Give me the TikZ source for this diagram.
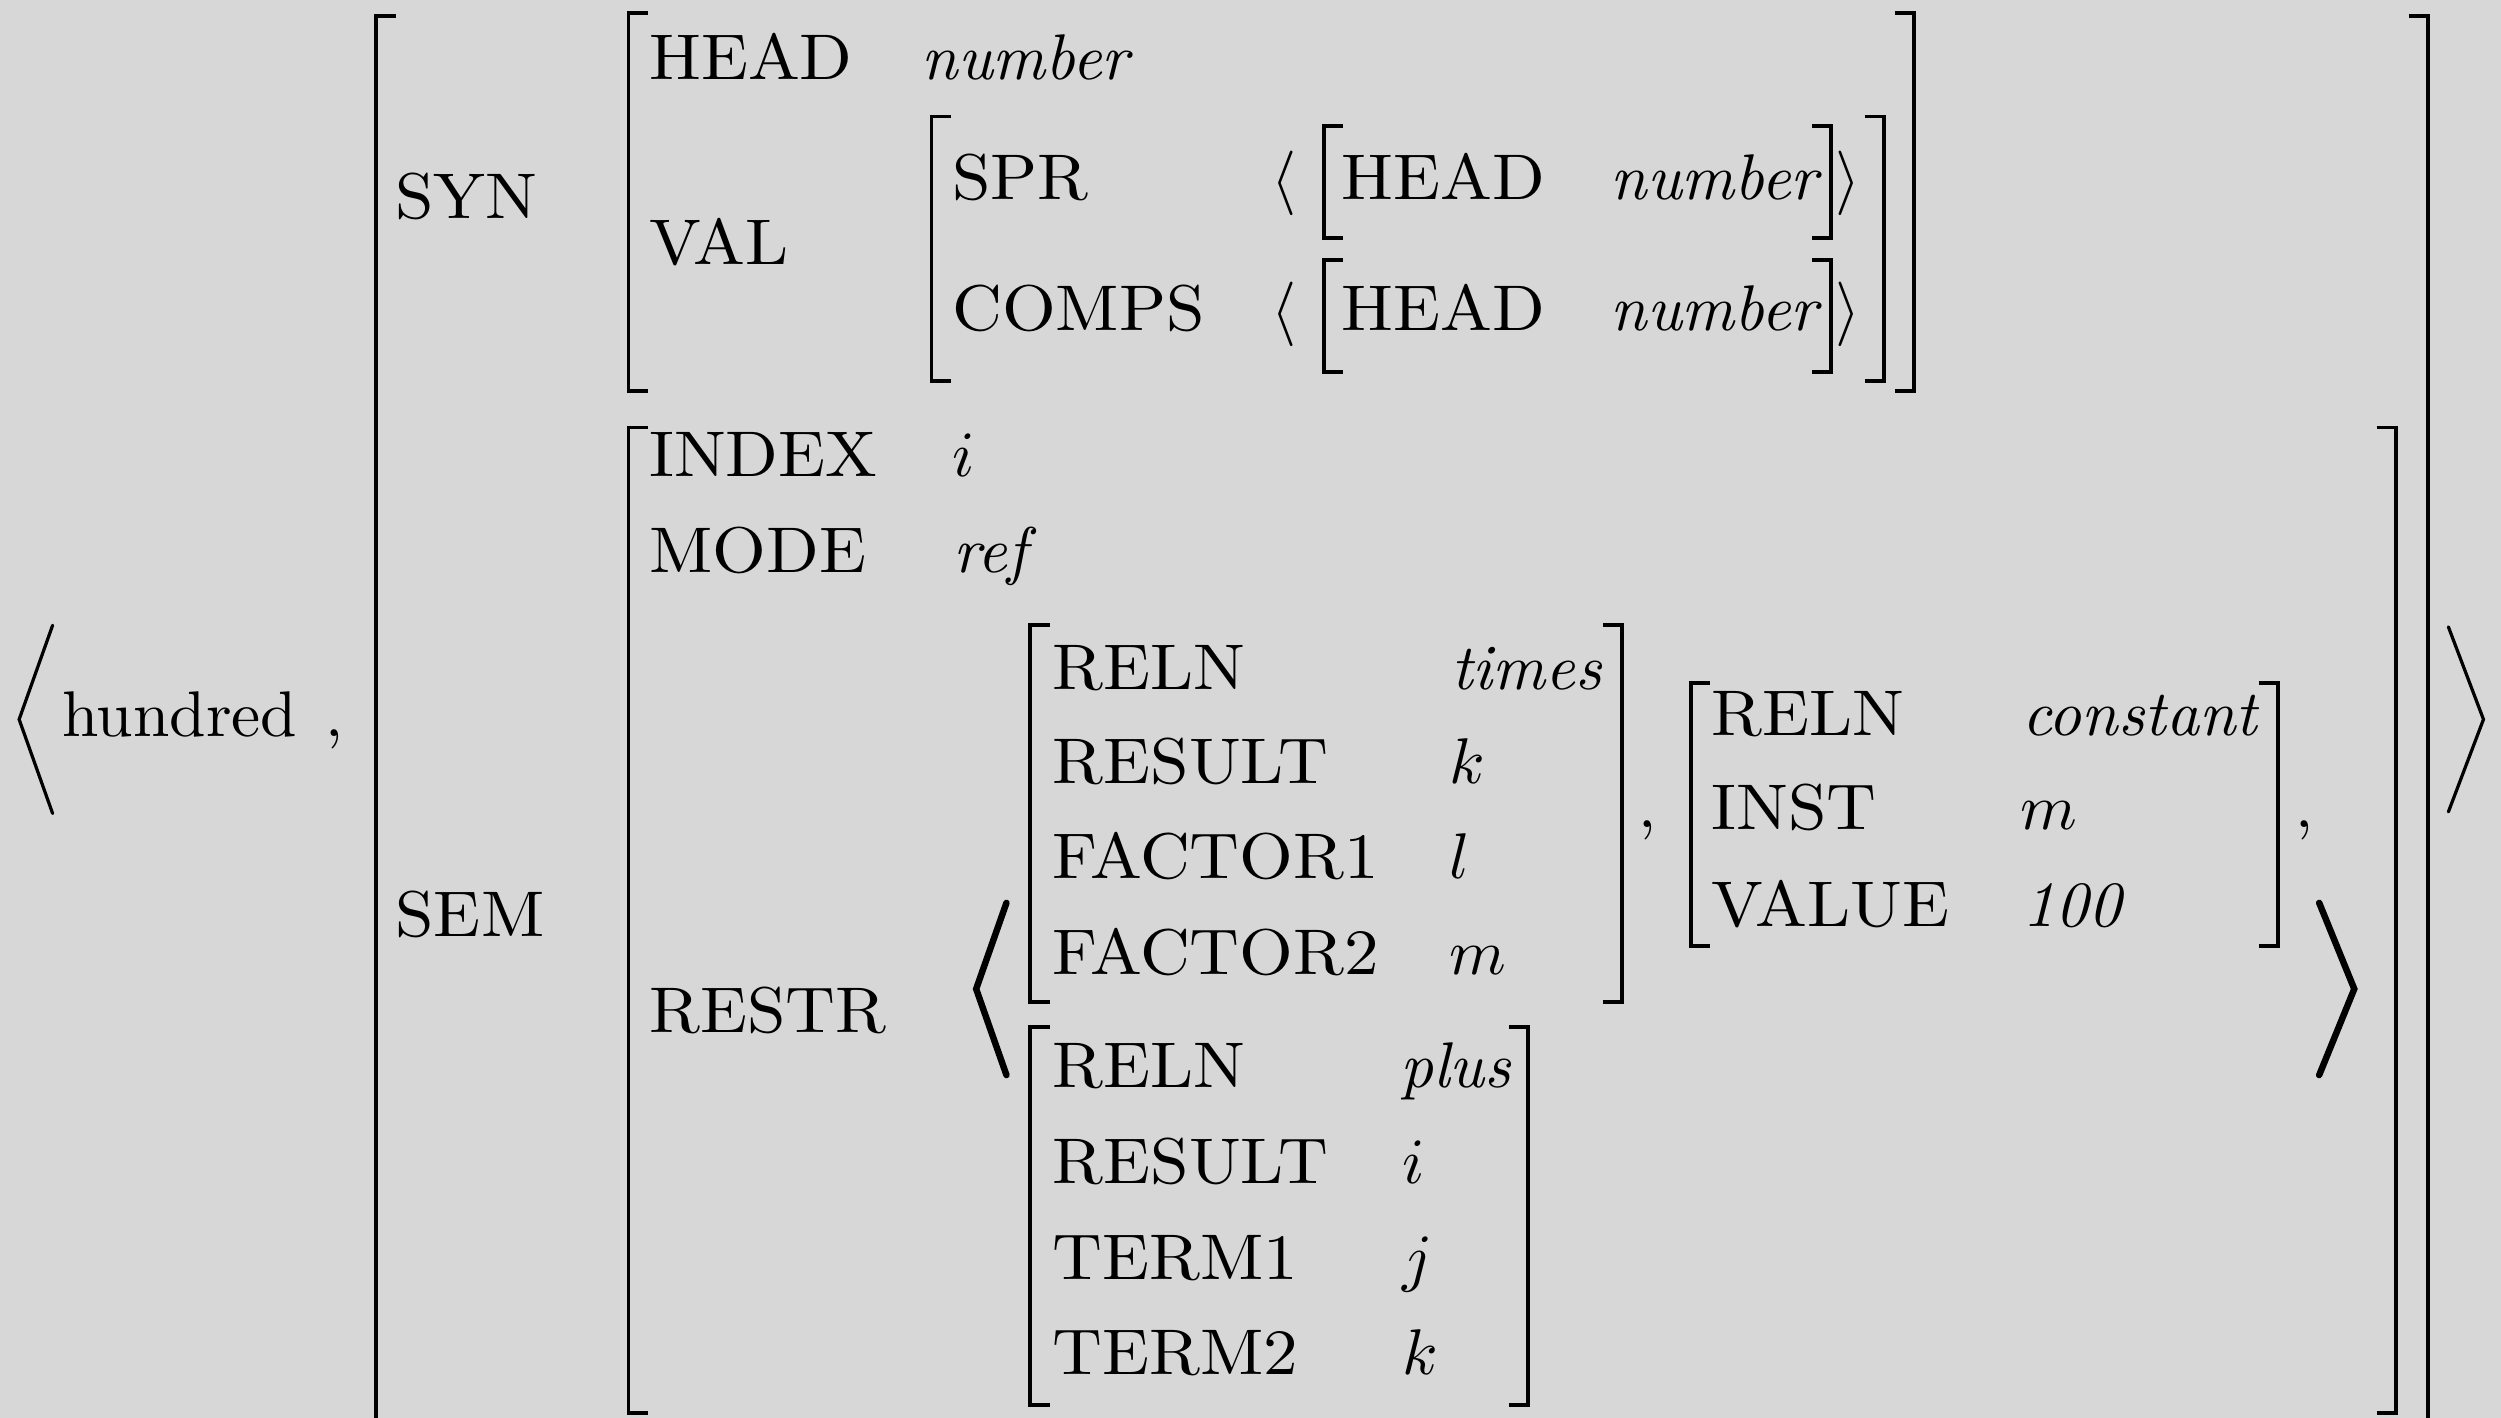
\documentclass[tikz,border=0pt]{standalone}
\usepackage{graphicx}
\definecolor{bgc}{RGB}{215,215,215}
\newcommand\avmL[3]{\draw[brk] ({#1+12},#2) -- (#1,#2) -- (#1,#3) -- ({#1+12},#3);}
\newcommand\avmR[3]{\draw[brk] ({#1-12},#2) -- (#1,#2) -- (#1,#3) -- ({#1-12},#3);}
\newcommand\capw[1]{\scalebox{1.07}[1]{#1}}
\begin{document}
\begin{tikzpicture}[x=0.247pt,y=-0.247pt,
  lbl/.style={anchor=base west, inner sep=0pt, outer sep=0pt},
  brk/.style={line width=0.6pt, line cap=butt, line join=miter},
  ang/.style={line width=0.5pt, line cap=round, line join=miter},
  bigang/.style={line width=1pt, line cap=round, line join=miter}]
\fill[bgc] (0,0) rectangle (1568,889);
\useasboundingbox (0,0) rectangle (1568,889);

% outer level
\draw[ang] (33,392) -- (12,451) -- (33,510);
\node[lbl] (word) at (39,462) {\scalebox{1.014}[1]{hundred}};
\node[lbl] (c0) at (204,462) {,};
\draw[brk] (248,10) -- (236,10) -- (236,900);
\draw[brk] (1510,10) -- (1522,10) -- (1522,900);
\draw[ang] (1535,393) -- (1557,451) -- (1535,509);

% SYN
\node[lbl] (syn) at (248,137) {\capw{SYN}};
\avmL{394}{8}{245}
\avmR{1200}{8}{245}
\node[lbl] (head) at (407,50) {\capw{HEAD}};
\node[lbl] (headv) at (578,50) {\textit{number}};
\node[lbl] (val) at (407,166) {\capw{VAL}};
\avmL{584}{73}{239}
\avmR{1181}{73}{239}
\node[lbl] (spr) at (597,125) {\capw{SPR}};
\node[lbl] (comps) at (597,207) {\capw{COMPS}};
\node[lbl] (la1) at (797,125) {$\langle$};
\node[lbl] (la2) at (797,207) {$\langle$};
\avmL{830}{79}{149}
\avmR{1148}{79}{149}
\avmL{830}{163}{233}
\avmR{1148}{163}{233}
\node[lbl] (h1) at (841,125) {\capw{HEAD}};
\node[lbl] (n1) at (1010,125) {\textit{number}};
\node[lbl] (h2) at (841,207) {\capw{HEAD}};
\node[lbl] (n2) at (1010,207) {\textit{number}};
\node[lbl] (ra1) at (1151,125) {$\rangle$};
\node[lbl] (ra2) at (1151,207) {$\rangle$};

% SEM
\node[lbl] (sem) at (248,587) {\capw{SEM}};
\avmL{394}{268}{886}
\avmR{1502}{268}{886}
\node[lbl] (index) at (407,299) {\capw{INDEX}};
\node[lbl] (indexv) at (597,299) {$i$};
\node[lbl] (mode) at (407,359) {\capw{MODE}};
\node[lbl] (modev) at (598,359) {\textit{ref}};
\node[lbl] (restr) at (407,647) {\capw{RESTR}};
\draw[bigang] (631,566) -- (612,620) -- (631,674);
\draw[bigang] (1454,566) -- (1476,620) -- (1454,674);

% times
\avmL{646}{392}{628}
\avmR{1017}{392}{628}
\node[lbl] (t1) at (660,432) {\capw{RELN}};
\node[lbl] (t1v) at (910,432) {\textit{times}};
\node[lbl] (t2) at (660,491) {\capw{RESULT}};
\node[lbl] (t2v) at (909,491) {$k$};
\node[lbl] (t3) at (660,551) {\capw{FACTOR1}};
\node[lbl] (t3v) at (909,551) {$l$};
\node[lbl] (t4) at (660,611) {\capw{FACTOR2}};
\node[lbl] (t4v) at (909,611) {$m$};
\node[lbl] (c1) at (1027,519) {,};

% constant
\avmL{1060}{428}{593}
\avmR{1428}{428}{593}
\node[lbl] (k1) at (1073,461) {\capw{RELN}};
\node[lbl] (k1v) at (1268,461) {\textit{constant}};
\node[lbl] (k2) at (1073,520) {\capw{INST}};
\node[lbl] (k2v) at (1267,520) {$m$};
\node[lbl] (k3) at (1073,581) {\capw{VALUE}};
\node[lbl] (k3v) at (1268,581) {\textit{100}};
\node[lbl] (c2) at (1439,519) {,};

% plus
\avmL{646}{644}{881}
\avmR{958}{644}{881}
\node[lbl] (p1) at (660,682) {\capw{RELN}};
\node[lbl] (p1v) at (878,682) {\textit{plus}};
\node[lbl] (p2) at (660,742) {\capw{RESULT}};
\node[lbl] (p2v) at (879,742) {$i$};
\node[lbl] (p3) at (660,802) {\capw{TERM1}};
\node[lbl] (p3v) at (879,802) {$j$};
\node[lbl] (p4) at (660,862) {\capw{TERM2}};
\node[lbl] (p4v) at (879,862) {$k$};
\end{tikzpicture}
\end{document}
